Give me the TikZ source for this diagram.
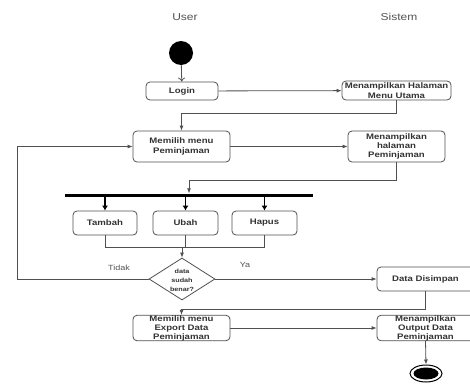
\documentclass[tikz,border=0pt]{standalone}
\usepackage{fontspec}
\usetikzlibrary{arrows.meta,shapes.geometric}
\newfontfamily\boxfont[FakeStretch=1.2]{Liberation Sans}
\definecolor{ln}{HTML}{505050}
\definecolor{tx}{HTML}{333333}
\tikzset{
  x=1pt, y=-1pt,
  actbox/.style={draw=ln, line width=0.8pt, rounded corners=4pt, inner sep=0pt, align=center,
    text=tx, font=\boxfont\fontsize{8}{9.5}\selectfont\bfseries},
  arr/.style={draw=ln, line width=0.8pt, -{Latex[length=5pt,width=4pt]}},
  ln/.style={draw=ln, line width=0.8pt},
  fat/.style={draw=black, line width=1.8pt, -{Latex[length=5pt,width=6pt]}},
  title/.style={text=tx!85, font=\boxfont\fontsize{10}{12}\selectfont},
  guard/.style={text=tx!85, font=\boxfont\fontsize{7.5}{9}\selectfont},
}
\begin{document}
\begin{tikzpicture}
\useasboundingbox (0,0) rectangle (470,383);
\node[title] (user) at (185,17) {User};
\node[title] (sistem) at (399,17) {Sistem};

\node[circle, fill=black, minimum size=24pt, inner sep=0pt] (start) at (181,53) {};
\node[actbox, minimum width=72pt, minimum height=18pt] (login) at (182,91) {Login};
\node[actbox, minimum width=109pt, minimum height=19pt] (menu) at (396.5,90.5) {Menampilkan Halaman\\Menu Utama};
\node[actbox, minimum width=97pt, minimum height=31pt] (pilih) at (181.5,146.5) {Memilih menu\\Peminjaman};
\node[actbox, minimum width=97pt, minimum height=31pt, font=\boxfont\fontsize{8}{9.2}\selectfont\bfseries] (hal) at (396.5,146.5) {Menampilkan\\halaman\\Peminjaman};
\node[fill=black, minimum width=248pt, minimum height=3pt, inner sep=0pt] (bar) at (189,195) {};
\node[actbox, minimum width=64pt, minimum height=24pt] (tambah) at (105,223) {Tambah};
\node[actbox, minimum width=65pt, minimum height=24pt] (ubah) at (185.5,223) {Ubah};
\node[actbox, minimum width=65pt, minimum height=24pt] (hapus) at (264.5,223) {Hapus};
\coordinate (m) at (182,247);
\node[diamond, draw=ln, line width=0.8pt, minimum width=66pt, minimum height=42pt, inner sep=0pt] (dec) at (182,279) {};
\node[align=center, text=tx, font=\boxfont\fontsize{6}{9}\selectfont\bfseries, inner sep=0pt] (dectext) at (182,280) {data\\sudah\\benar?};
\coordinate (loop) at (17,279);
\node[guard] (tidak) at (119,268) {Tidak};
\node[guard] (ya) at (245,265) {Ya};
\node[actbox, minimum width=97pt, minimum height=24pt] (simpan) at (425.5,279) {Data Disimpan};
\node[actbox, minimum width=97pt, minimum height=24pt, font=\boxfont\fontsize{8}{9}\selectfont\bfseries] (export) at (181.5,328) {Memilih menu\\Export Data\\Peminjaman};
\node[actbox, minimum width=97pt, minimum height=24pt, font=\boxfont\fontsize{8}{9}\selectfont\bfseries] (output) at (425.5,328) {Menampilkan\\Output Data\\Peminjaman};
\node[ellipse, draw=black, line width=1pt, minimum width=32pt, minimum height=17pt, inner sep=0pt] (end) at (426,373.5) {};
\node[ellipse, fill=black, minimum width=25pt, minimum height=12pt, inner sep=0pt] (endin) at (426,373.5) {};

\draw[ln, -{To[length=4pt,width=7pt]}] (start) -- (login);
\draw[arr] (login) -- (menu);
\draw[arr] (menu.south) -- ++(0,13) -| (pilih.north);
\draw[arr] (pilih) -- (hal);
\draw[arr] (hal.south) -- ++(0,18) -| (bar.north);
\draw[fat] (tambah.north |- bar.south) -- (tambah.north);
\draw[fat] (ubah.north |- bar.south) -- (ubah.north);
\draw[fat] (hapus.north |- bar.south) -- (hapus.north);
\draw[ln] (tambah.south) |- (hapus.south |- m) -- (hapus.south);
\draw[ln] (ubah.south) -- (ubah.south |- m);
\draw[arr] (m) -- (dec.north);
\draw[arr] (dec.west) -- (loop) |- (pilih.west);
\draw[arr] (dec.east) -- (simpan.west);
\draw[arr] (simpan.south) -- ++(0,18) -| (export.north);
\draw[arr] (export) -- (output);
\draw[arr] (output.south) -- (end.north);
\end{tikzpicture}
\end{document}
